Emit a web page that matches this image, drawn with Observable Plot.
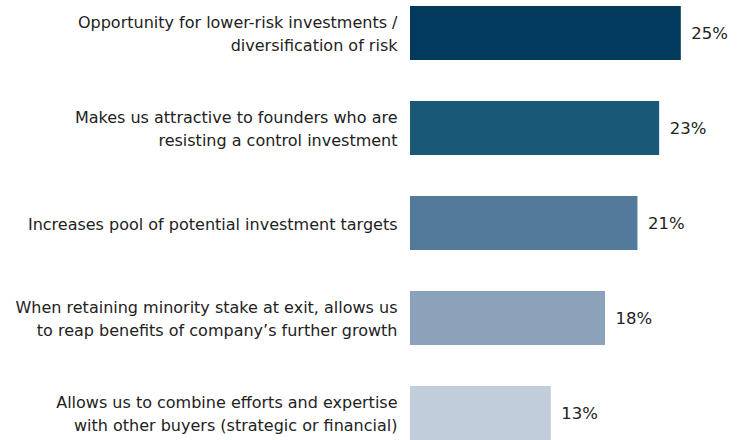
<!DOCTYPE html>
<html>
<head>
<meta charset="utf-8">
<script src="https://cdn.jsdelivr.net/npm/d3@7"></script>
<script src="https://cdn.jsdelivr.net/npm/@observablehq/plot@0.6"></script>
<style>
  html, body { margin: 0; padding: 0; background: #fff; }
  #chart svg { display: block; }
</style>
</head>
<body>
<div id="chart"></div>
<script>
const categories = [
  "Opportunity for lower-risk investments /\ndiversification of risk",
  "Makes us attractive to founders who are\nresisting a control investment",
  "Increases pool of potential investment targets",
  "When retaining minority stake at exit, allows us\nto reap benefits of company\u2019s further growth",
  "Allows us to combine efforts and expertise\nwith other buyers (strategic or financial)"
];
const values = [25, 23, 21, 18, 13];
const colors = ["#003A5D", "#1A5878", "#527A9A", "#8AA2BA", "#C1CDDB"];

const data = categories.map((c, i) => ({category: c, value: values[i], color: colors[i]}));

const chart = Plot.plot({
  width: 742,
  height: 440,
  marginLeft: 410,
  marginRight: 0,
  marginTop: 5,
  marginBottom: 0,
  style: {fontFamily: "'DejaVu Sans', sans-serif", background: "#fff"},
  x: {domain: [0, 30.65], axis: null},
  y: {domain: categories, axis: null, paddingInner: 0.436, paddingOuter: 0},
  marks: [
    Plot.barX(data, {x: "value", y: "category", fill: "color"}),
    Plot.text(data, {x: "value", y: "category", text: d => d.value + "%", textAnchor: "start", dx: 10, fontSize: 16.5, fill: "#222"}),
    Plot.text(data, {x: 0, y: "category", text: "category", textAnchor: "end", dx: -13, dy: -1, fontSize: 16, lineHeight: 1.4, fill: "#222"})
  ]
});
document.getElementById("chart").appendChild(chart);
</script>
</body>
</html>
